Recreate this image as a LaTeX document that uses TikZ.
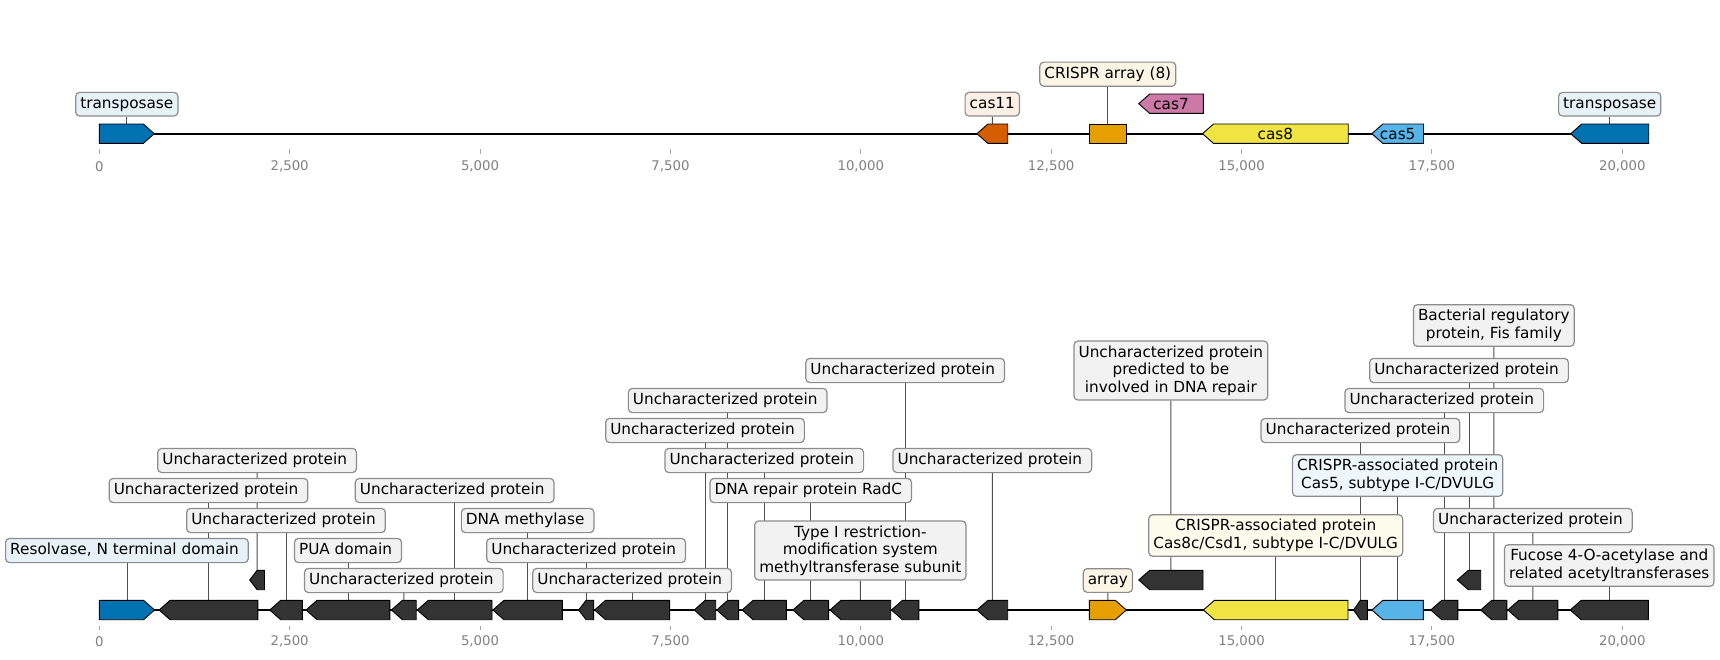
\documentclass[tikz,border=0pt]{standalone}
\usepackage{fontspec}
\setmainfont{DejaVu Sans}
\pgfdeclarelayer{bg}
\pgfsetlayers{bg,main}
\definecolor{cblue}{HTML}{0072B2}
\definecolor{cverm}{HTML}{D55E00}
\definecolor{corange}{HTML}{E69F00}
\definecolor{cpink}{HTML}{CC79A7}
\definecolor{cyellow}{HTML}{F0E442}
\definecolor{csky}{HTML}{56B4E9}
\definecolor{cdark}{HTML}{333333}
\definecolor{lblue}{HTML}{E6F1F8}
\definecolor{lverm}{HTML}{FBEFE6}
\definecolor{lorange}{HTML}{FCF5E6}
\definecolor{lyellow}{HTML}{FDFCEC}
\definecolor{lsky}{HTML}{EEF7FD}
\definecolor{lgray}{HTML}{F2F2F2}
\definecolor{labgray}{HTML}{8C8C8C}
\definecolor{conngray}{HTML}{505050}
\definecolor{tickgray}{HTML}{808080}
\newcommand\mainfs{\fontsize{15.28}{17.45}\selectfont}
\newcommand\tickfs{\fontsize{13.3}{15}\selectfont}
\newcommand\ls{\rule[-3.4pt]{0pt}{14.5pt}}
\newcommand\tsp{\kern4.9pt}
\newcommand\UP{\ls Uncharacterized protein\tsp}
\tikzset{
  genestyle/.style={draw=black, line width=0.9pt, line join=miter},
  lab/.style={draw=labgray, line width=1.2pt, rounded corners=4pt, inner xsep=4.6pt, inner ysep=4.6pt, font=\mainfs, text=black},
  mlab/.style={lab, align=center},
  conn/.style={draw=conngray, line width=0.9pt},
  track/.style={line width=1.6pt, draw=black},
  tickmark/.style={line width=0.9pt, draw=tickgray!70},
  ticklab/.style={font=\tickfs, text=tickgray, inner sep=0pt},
  intext/.style={font=\mainfs, text=black, inner sep=0pt}
}
% reverse gene: name, xl, xr, yc, colour
\newcommand\gr[5]{%
  \pgfmathsetmacro\hl{min(11,(#3-#2)/2)}%
  \pgfmathsetmacro\xb{#2+\hl}%
  \draw[genestyle,fill=#5] (#2,#4) -- (\xb,#4-9.7) -- (#3,#4-9.7) -- (#3,#4+9.7) -- (\xb,#4+9.7) -- cycle;
  \coordinate (#1) at ({(#2+#3)/2},#4-9.7);}
% forward gene
\newcommand\gf[5]{%
  \pgfmathsetmacro\hl{min(11,(#3-#2)/2)}%
  \pgfmathsetmacro\xb{#3-\hl}%
  \draw[genestyle,fill=#5] (#2,#4-9.7) -- (\xb,#4-9.7) -- (#3,#4) -- (\xb,#4+9.7) -- (#2,#4+9.7) -- cycle;
  \coordinate (#1) at ({(#2+#3)/2},#4-9.7);}
% box gene
\newcommand\gb[5]{%
  \draw[genestyle,fill=#5] (#2,#4-9.7) rectangle (#3,#4+9.7);
  \coordinate (#1) at ({(#2+#3)/2},#4-9.7);}
\begin{document}
\begin{tikzpicture}[x=1pt,y=-1pt]
\useasboundingbox (0,0) rectangle (1720,659);
% ---------- axes ----------
\foreach \k/\t in {0/0,1/{2,500},2/{5,000},3/{7,500},4/{10,000},5/{12,500},6/{15,000},7/{17,500},8/{20,000}}{
  \pgfmathsetmacro\xx{99.3+\k*190.375}
  \draw[tickmark] (\xx,149.3) -- (\xx,154);
  \node[ticklab] (ta\k) at (\xx,166.3) {\t};
  \draw[tickmark] (\xx,625.7) -- (\xx,630.4);
  \node[ticklab] (tb\k) at (\xx,641.7) {\t};
}
% ---------- top track ----------
\coordinate (ts) at (99.3,133.7);
\coordinate (te) at (1648.7,133.7);
\gf{t1}{99.3}{154.3}{133.7}{cblue}
\gr{t2}{976.9}{1007.7}{133.7}{cverm}
\gb{t3}{1089.3}{1126.3}{133.7}{corange}
\gr{t4}{1138.7}{1203.3}{103.7}{cpink}
\gr{t5}{1202.5}{1348.2}{133.7}{cyellow}
\gr{t6}{1371.8}{1423.5}{133.7}{csky}
\gr{t7}{1570.7}{1648.7}{133.7}{cblue}
\node[intext] (x4) at (1171,103.7) {cas7};
\node[intext] (x5) at (1275.4,133.7) {cas8};
\node[intext] (x6) at (1397.7,133.7) {cas5};
\node[lab,fill=lblue] (lt1) at (126.8,104.2) {\ls transposase};
\node[lab,fill=lverm] (lt2) at (992.3,104.2) {\ls cas11};
\node[lab,fill=lorange] (lt3) at (1107.8,74.2) {\ls CRISPR array (8)};
\node[lab,fill=lblue] (lt7) at (1609.7,104.2) {\ls transposase};
% ---------- bottom track ----------
\coordinate (bs) at (99.3,610);
\coordinate (be) at (1648.3,610);
\gf{b1}{99.3}{154.6}{610}{cblue}
\gr{b2}{159.1}{257.9}{610}{cdark}
\gr{b3}{249.7}{264.5}{580}{cdark}
\gr{b4}{269.7}{302.3}{610}{cdark}
\gr{b5}{306}{389.9}{610}{cdark}
\gr{b6}{391.4}{416.2}{610}{cdark}
\gr{b7}{417.3}{492}{610}{cdark}
\gr{b8}{492.9}{562.4}{610}{cdark}
\gr{b9}{578.6}{593.6}{610}{cdark}
\gr{b10}{594.6}{669.6}{610}{cdark}
\gr{b11}{694.3}{715.7}{610}{cdark}
\gr{b12}{716.8}{738.6}{610}{cdark}
\gr{b13}{742.1}{786.4}{610}{cdark}
\gr{b14}{792.9}{828.6}{610}{cdark}
\gr{b15}{830}{890.7}{610}{cdark}
\gr{b16}{891.4}{918.9}{610}{cdark}
\gr{b17}{976.9}{1007.7}{610}{cdark}
\gf{b18}{1089.4}{1126.3}{610}{corange}
\gr{b19}{1138.7}{1203}{580}{cdark}
\gr{b20}{1203.4}{1348}{610}{cyellow}
\gr{b21}{1353.5}{1367.3}{610}{cdark}
\gr{b22}{1371.9}{1423.4}{610}{csky}
\gr{b23}{1430.7}{1457.8}{610}{cdark}
\gr{b24}{1457.3}{1480.7}{580}{cdark}
\gr{b25}{1480.7}{1506.9}{610}{cdark}
\gr{b26}{1507.8}{1557.9}{610}{cdark}
\gr{b27}{1570.2}{1648.3}{610}{cdark}
% labels
\node[lab,fill=lblue] (l1) at (126.95,550.5) {\ls Resolvase, N terminal domain\tsp};
\node[lab,fill=lgray] (l2) at (208.5,490.5) {\UP};
\node[lab,fill=lgray] (l3) at (257.1,460.5) {\UP};
\node[lab,fill=lgray] (l4) at (286,520.5) {\UP};
\node[lab,fill=lgray] (l5) at (347.95,550.5) {\ls PUA domain\tsp};
\node[lab,fill=lgray] (l6) at (403.8,580.5) {\UP};
\node[lab,fill=lgray] (l7) at (454.65,490.5) {\UP};
\node[lab,fill=lgray] (l8) at (527.65,520.5) {\ls DNA methylase\tsp};
\node[lab,fill=lgray] (l9) at (586.1,550.5) {\UP};
\node[lab,fill=lgray] (l10) at (632.1,580.5) {\UP};
\node[lab,fill=lgray] (l11) at (705,430.5) {\UP};
\node[lab,fill=lgray] (l12) at (727.7,400.5) {\UP};
\node[lab,fill=lgray] (l13) at (764.25,460.5) {\UP};
\node[lab,fill=lgray] (l14) at (810.75,490.5) {\ls DNA repair protein RadC\tsp};
\node[mlab,fill=lgray] (l15) at (860.35,550.5) {\ls Type I restriction-\\\ls modification system\\\ls methyltransferase subunit};
\node[lab,fill=lgray] (l16) at (905.15,370.5) {\UP};
\node[lab,fill=lgray] (l17) at (992.3,460.5) {\UP};
\node[lab,fill=lorange] (l18) at (1107.85,580.5) {\ls array};
\node[mlab,fill=lgray] (l19) at (1170.85,370.5) {\ls Uncharacterized protein\\\ls predicted to be\\\ls involved in DNA repair};
\node[mlab,fill=lyellow] (l20) at (1275.7,535.5) {\ls CRISPR-associated protein\\\ls Cas8c/Csd1, subtype I-C/DVULG};
\node[lab,fill=lgray] (l21) at (1360.4,430.5) {\UP};
\node[mlab,fill=lsky] (l22) at (1397.65,475.5) {\ls CRISPR-associated protein\\\ls Cas5, subtype I-C/DVULG};
\node[lab,fill=lgray] (l23) at (1444.25,400.5) {\UP};
\node[lab,fill=lgray] (l24) at (1469,370.5) {\UP};
\node[mlab,fill=lgray] (l25) at (1493.8,325.5) {\ls Bacterial regulatory\\\ls protein, Fis family};
\node[lab,fill=lgray] (l26) at (1532.85,520.5) {\UP};
\node[mlab,fill=lgray] (l27) at (1609.25,565.5) {\ls Fucose 4-O-acetylase and\\\ls related acetyltransferases};
% ---------- background: track lines and connectors ----------
\begin{pgfonlayer}{bg}
  \draw[track] (ts) -- (te);
  \draw[track] (bs) -- (be);
  \foreach \n in {1,2,3,7}{\draw[conn] (lt\n.south) -- (t\n);}
  \foreach \n in {1,...,27}{\draw[conn] (l\n.south) -- (b\n);}
\end{pgfonlayer}
\end{tikzpicture}
\end{document}
